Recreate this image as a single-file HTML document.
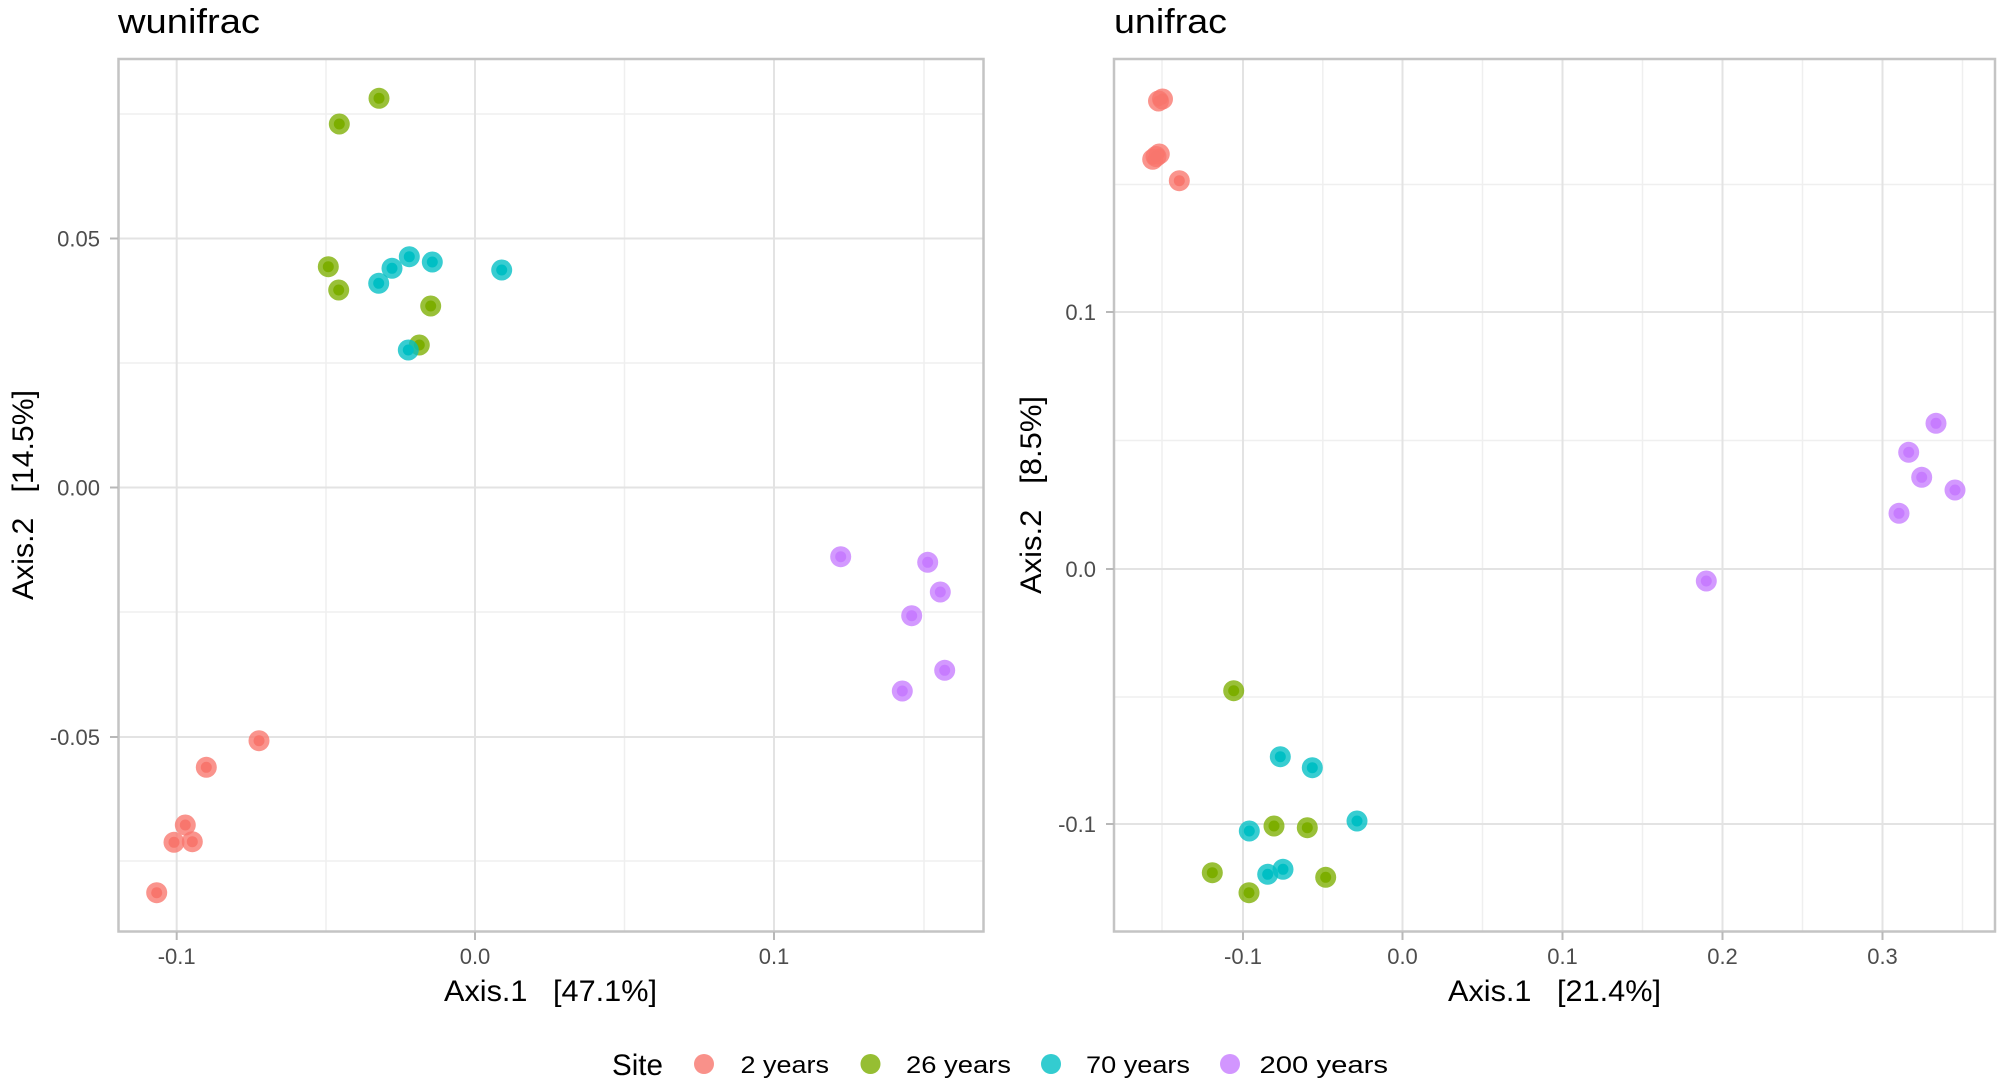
<!DOCTYPE html>
<html><head><meta charset="utf-8"><style>
html,body{margin:0;padding:0;background:#fff;}
svg{display:block;font-family:"Liberation Sans",Arial,sans-serif;}
</style></head><body>
<svg width="2000" height="1081" viewBox="0 0 2000 1081" xmlns="http://www.w3.org/2000/svg">
<rect width="2000" height="1081" fill="#fff"/>
<defs>
<g id="pr"><circle r="10.5" fill="#F8766D" fill-opacity="0.78"/><circle r="5.5" fill="#F8766D"/></g>
<g id="pg"><circle r="10.5" fill="#7CAE00" fill-opacity="0.78"/><circle r="5.5" fill="#7CAE00"/></g>
<g id="pc"><circle r="10.5" fill="#00BFC4" fill-opacity="0.78"/><circle r="5.5" fill="#00BFC4"/></g>
<g id="pp"><circle r="10.5" fill="#C77CFF" fill-opacity="0.78"/><circle r="5.5" fill="#C77CFF"/></g>
</defs>

<!-- LEFT PANEL -->
<text x="118" y="33" font-size="34" fill="#000" textLength="142" lengthAdjust="spacingAndGlyphs">wunifrac</text>
<g stroke="#EFEFEF" stroke-width="1.5">
<line x1="119" y1="114" x2="983" y2="114"/>
<line x1="119" y1="363" x2="983" y2="363"/>
<line x1="119" y1="612" x2="983" y2="612"/>
<line x1="119" y1="861" x2="983" y2="861"/>
<line x1="326" y1="60" x2="326" y2="931"/>
<line x1="624.5" y1="60" x2="624.5" y2="931"/>
<line x1="924" y1="60" x2="924" y2="931"/>
</g>
<g stroke="#E3E3E3" stroke-width="2">
<line x1="119" y1="238.5" x2="983" y2="238.5"/>
<line x1="119" y1="487.5" x2="983" y2="487.5"/>
<line x1="119" y1="737" x2="983" y2="737"/>
<line x1="176.7" y1="60" x2="176.7" y2="931"/>
<line x1="475" y1="60" x2="475" y2="931"/>
<line x1="774" y1="60" x2="774" y2="931"/>
</g>
<rect x="118.5" y="59" width="865" height="872.5" fill="none" stroke="#C4C4C4" stroke-width="2.5"/>
<g stroke="#B8B8B8" stroke-width="2">
<line x1="110" y1="238.5" x2="118" y2="238.5"/>
<line x1="110" y1="487.5" x2="118" y2="487.5"/>
<line x1="110" y1="737" x2="118" y2="737"/>
<line x1="176.7" y1="932" x2="176.7" y2="940"/>
<line x1="475" y1="932" x2="475" y2="940"/>
<line x1="774" y1="932" x2="774" y2="940"/>
</g>
<g font-size="22" fill="#4D4D4D">
<text x="100" y="246.5" text-anchor="end">0.05</text>
<text x="100" y="495.5" text-anchor="end">0.00</text>
<text x="100" y="745" text-anchor="end">-0.05</text>
<text x="176.7" y="964" text-anchor="middle">-0.1</text>
<text x="475" y="964" text-anchor="middle">0.0</text>
<text x="774" y="964" text-anchor="middle">0.1</text>
</g>
<text x="444" y="1001" font-size="30" fill="#000" textLength="213" lengthAdjust="spacingAndGlyphs" xml:space="preserve">Axis.1   [47.1%]</text>
<text transform="translate(33,600) rotate(-90)" font-size="30" fill="#000" textLength="210" lengthAdjust="spacingAndGlyphs" xml:space="preserve">Axis.2   [14.5%]</text>

<g>
<use href="#pr" x="259" y="740.7"/><use href="#pr" x="206.3" y="767.3"/><use href="#pr" x="185.3" y="825"/>
<use href="#pr" x="174" y="842.3"/><use href="#pr" x="192.3" y="841.7"/><use href="#pr" x="156.7" y="892.7"/>
<use href="#pg" x="379" y="98.3"/><use href="#pg" x="339.3" y="124"/><use href="#pg" x="328.3" y="266.7"/>
<use href="#pg" x="338.7" y="290"/><use href="#pg" x="430.7" y="306"/><use href="#pg" x="419.3" y="345"/>
<use href="#pc" x="409.3" y="256.7"/><use href="#pc" x="432.3" y="262"/><use href="#pc" x="392" y="268.3"/>
<use href="#pc" x="378.7" y="283.3"/><use href="#pc" x="501.7" y="270"/><use href="#pc" x="408.3" y="350"/>
<use href="#pp" x="840.7" y="556.7"/><use href="#pp" x="927.7" y="562.3"/><use href="#pp" x="940.3" y="592"/>
<use href="#pp" x="911.7" y="615.7"/><use href="#pp" x="944.7" y="670.3"/><use href="#pp" x="902.3" y="691"/>
</g>

<!-- RIGHT PANEL -->
<text x="1114" y="33" font-size="34" fill="#000" textLength="113" lengthAdjust="spacingAndGlyphs">unifrac</text>
<g stroke="#EFEFEF" stroke-width="1.5">
<line x1="1115" y1="184.5" x2="1995" y2="184.5"/>
<line x1="1115" y1="440.5" x2="1995" y2="440.5"/>
<line x1="1115" y1="697" x2="1995" y2="697"/>
<line x1="1162" y1="60" x2="1162" y2="931"/>
<line x1="1322.8" y1="60" x2="1322.8" y2="931"/>
<line x1="1482.5" y1="60" x2="1482.5" y2="931"/>
<line x1="1642.5" y1="60" x2="1642.5" y2="931"/>
<line x1="1802.5" y1="60" x2="1802.5" y2="931"/>
<line x1="1962.5" y1="60" x2="1962.5" y2="931"/>
</g>
<g stroke="#E3E3E3" stroke-width="2">
<line x1="1115" y1="312" x2="1995" y2="312"/>
<line x1="1115" y1="569" x2="1995" y2="569"/>
<line x1="1115" y1="824" x2="1995" y2="824"/>
<line x1="1243" y1="60" x2="1243" y2="931"/>
<line x1="1402.5" y1="60" x2="1402.5" y2="931"/>
<line x1="1562.5" y1="60" x2="1562.5" y2="931"/>
<line x1="1722.5" y1="60" x2="1722.5" y2="931"/>
<line x1="1882.5" y1="60" x2="1882.5" y2="931"/>
</g>
<rect x="1114" y="59" width="881" height="872.5" fill="none" stroke="#C4C4C4" stroke-width="2.5"/>
<g stroke="#B8B8B8" stroke-width="2">
<line x1="1106" y1="312" x2="1114" y2="312"/>
<line x1="1106" y1="569" x2="1114" y2="569"/>
<line x1="1106" y1="824" x2="1114" y2="824"/>
<line x1="1243" y1="932" x2="1243" y2="940"/>
<line x1="1402.5" y1="932" x2="1402.5" y2="940"/>
<line x1="1562.5" y1="932" x2="1562.5" y2="940"/>
<line x1="1722.5" y1="932" x2="1722.5" y2="940"/>
<line x1="1882.5" y1="932" x2="1882.5" y2="940"/>
</g>
<g font-size="22" fill="#4D4D4D">
<text x="1096" y="320" text-anchor="end">0.1</text>
<text x="1096" y="577" text-anchor="end">0.0</text>
<text x="1096" y="832" text-anchor="end">-0.1</text>
<text x="1243" y="964" text-anchor="middle">-0.1</text>
<text x="1402.5" y="964" text-anchor="middle">0.0</text>
<text x="1562.5" y="964" text-anchor="middle">0.1</text>
<text x="1722.5" y="964" text-anchor="middle">0.2</text>
<text x="1882.5" y="964" text-anchor="middle">0.3</text>
</g>
<text x="1448" y="1001" font-size="30" fill="#000" textLength="213" lengthAdjust="spacingAndGlyphs" xml:space="preserve">Axis.1   [21.4%]</text>
<text transform="translate(1041,594) rotate(-90)" font-size="30" fill="#000" textLength="198" lengthAdjust="spacingAndGlyphs" xml:space="preserve">Axis.2   [8.5%]</text>

<g>
<use href="#pr" x="1158.5" y="101"/><use href="#pr" x="1162.5" y="99"/><use href="#pr" x="1159.3" y="154"/>
<use href="#pr" x="1152.7" y="159.3"/><use href="#pr" x="1156" y="156.5"/><use href="#pr" x="1179.3" y="180.7"/>
<use href="#pg" x="1233.7" y="690.7"/><use href="#pg" x="1274" y="826"/><use href="#pg" x="1307.3" y="827.7"/>
<use href="#pg" x="1212.3" y="872.7"/><use href="#pg" x="1249" y="892.7"/><use href="#pg" x="1325.7" y="877.3"/>
<use href="#pc" x="1280.3" y="756.7"/><use href="#pc" x="1312.3" y="767.7"/><use href="#pc" x="1357" y="821"/>
<use href="#pc" x="1249.3" y="831"/><use href="#pc" x="1267.7" y="874.3"/><use href="#pc" x="1283" y="869.3"/>
<use href="#pp" x="1936" y="423.3"/><use href="#pp" x="1908.7" y="452.3"/><use href="#pp" x="1921.7" y="477.3"/>
<use href="#pp" x="1955" y="490"/><use href="#pp" x="1899" y="513.3"/><use href="#pp" x="1706.3" y="581"/>
</g>

<!-- LEGEND -->
<text x="612" y="1075" font-size="30" fill="#000" textLength="51" lengthAdjust="spacingAndGlyphs">Site</text>
<circle cx="704" cy="1064" r="10" fill="#F8766D" fill-opacity="0.8"/>
<circle cx="870.5" cy="1064" r="10" fill="#7CAE00" fill-opacity="0.8"/>
<circle cx="1051" cy="1064" r="10" fill="#00BFC4" fill-opacity="0.8"/>
<circle cx="1230" cy="1064" r="10" fill="#C77CFF" fill-opacity="0.8"/>
<g font-size="24" fill="#000">
<text x="740.5" y="1073" textLength="88.5" lengthAdjust="spacingAndGlyphs">2 years</text>
<text x="906" y="1073" textLength="105" lengthAdjust="spacingAndGlyphs">26 years</text>
<text x="1086" y="1073" textLength="104" lengthAdjust="spacingAndGlyphs">70 years</text>
<text x="1259.5" y="1073" textLength="128.5" lengthAdjust="spacingAndGlyphs">200 years</text>
</g>
</svg>
</body></html>
